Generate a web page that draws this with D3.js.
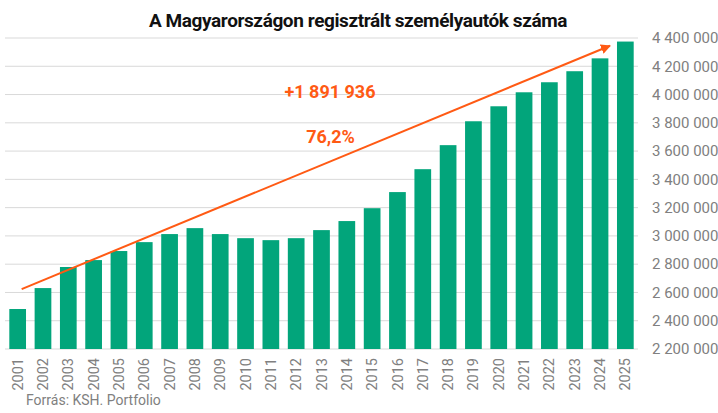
<!DOCTYPE html>
<html>
<head>
<meta charset="utf-8">
<script src="https://cdn.jsdelivr.net/npm/d3@7"></script>
<style>
  body { margin: 0; background: #fff; }
  text { font-family: Roboto, "Liberation Sans", sans-serif; }
</style>
</head>
<body>
<div id="chart"></div>
<script>
// years and registered passenger cars (KSH)
var years = ["2001","2002","2003","2004","2005","2006","2007","2008","2009","2010","2011","2012","2013",
             "2014","2015","2016","2017","2018","2019","2020","2021","2022","2023","2024","2025"]
var cars = [2482856, 2631000, 2780000, 2829000, 2893000, 2956000, 3013000, 3055000, 3013000, 2984000,
            2970000, 2984000, 3041000, 3105000, 3196000, 3310000, 3472000, 3642000, 3811000, 3917000,
            4016000, 4087000, 4165000, 4256000, 4374792]
var yTicks = [2200000, 2400000, 2600000, 2800000, 3000000, 3200000, 3400000, 3600000, 3800000, 4000000, 4200000, 4400000]
var annotations = ["+1 891 936", "76,2%"]
// trend arrow: [year, value] at start and end
var arrowFrom = ["2001", 2624000]
var arrowTo = ["2025", 4345000]

var W = 718, H = 413
var margin = {top: 38, right: 80, bottom: 64, left: 5}
var width = W - margin.left - margin.right
var height = H - margin.top - margin.bottom

var svg = d3.select("#chart").append("svg")
  .attr("width", W).attr("height", H)

var g = svg.append("g")
  .attr("transform", "translate(" + margin.left + "," + margin.top + ")")

var x = d3.scaleBand().domain(years).range([0, width]).paddingInner(0.34).paddingOuter(0.17)
var y = d3.scaleLinear().domain([2200000, 4400000]).range([height, 0])

var fmt = function(v) { return d3.format(",")(v).replace(/,/g, " ") }

// gridlines
g.selectAll(".grid")
  .data(yTicks)
  .enter()
  .append("line")
  .attr("x1", 0).attr("x2", width)
  .attr("y1", function(d) { return y(d) }).attr("y2", function(d) { return y(d) })
  .attr("stroke", "#d9d9d9").attr("stroke-width", 1)

// right axis labels
var yAxis = g.append("g")
  .attr("transform", "translate(" + width + ",0)")
  .call(d3.axisRight(y).tickValues(yTicks).tickFormat(fmt).tickSize(0).tickPadding(14))
yAxis.select(".domain").remove()
yAxis.selectAll("text").attr("fill", "#808080").attr("font-size", "15px")
  .attr("font-family", "Roboto, sans-serif")

// bars
g.selectAll("rect")
  .data(cars)
  .enter()
  .append("rect")
  .attr("x", function(d, i) { return x(years[i]) })
  .attr("width", x.bandwidth())
  .attr("y", function(d) { return y(d) })
  .attr("height", function(d) { return height - y(d) })
  .attr("fill", "#02a57b")

// bottom axis labels, rotated
var xAxis = g.append("g")
  .attr("transform", "translate(0," + height + ")")
  .call(d3.axisBottom(x).tickSize(0).tickPadding(0))
xAxis.select(".domain").remove()
xAxis.selectAll("text")
  .attr("transform", "rotate(-90)")
  .attr("text-anchor", "end")
  .attr("x", -9).attr("y", 0).attr("dy", "0.35em")
  .attr("fill", "#808080").attr("font-size", "14.5px")
  .attr("font-family", "Roboto, sans-serif")

// arrow
svg.append("defs").append("marker")
  .attr("id", "head")
  .attr("viewBox", "0 0 10 10")
  .attr("refX", 9).attr("refY", 5)
  .attr("markerWidth", 5).attr("markerHeight", 5)
  .attr("markerUnits", "strokeWidth")
  .attr("orient", "auto")
  .append("path").attr("d", "M0,0L10,5L0,10Z").attr("fill", "#ff5a14")

g.append("line")
  .attr("x1", x(arrowFrom[0]) + x.bandwidth() / 2 + 4)
  .attr("y1", y(arrowFrom[1]))
  .attr("x2", x(arrowTo[0]) - 7)
  .attr("y2", y(arrowTo[1]))
  .attr("stroke", "#ff5a14").attr("stroke-width", 2)
  .attr("marker-end", "url(#head)")

// annotation texts
svg.append("text")
  .attr("x", 330).attr("y", 98)
  .attr("text-anchor", "middle")
  .attr("font-size", "18px").attr("font-weight", "bold")
  .attr("fill", "#ff5a14")
  .text(annotations[0])

svg.append("text")
  .attr("x", 330.5).attr("y", 143)
  .attr("text-anchor", "middle")
  .attr("font-size", "18px").attr("font-weight", "bold")
  .attr("fill", "#ff5a14")
  .text(annotations[1])

// title
svg.append("text")
  .attr("x", 358).attr("y", 27)
  .attr("text-anchor", "middle")
  .attr("font-size", "19px").attr("font-weight", "bold")
  .attr("letter-spacing", "-0.4px")
  .attr("fill", "#111")
  .text("A Magyarországon regisztrált személyautók száma")

// source
svg.append("text")
  .attr("x", 26).attr("y", 405)
  .attr("font-size", "14px")
  .attr("fill", "#808080")
  .text("Forrás: KSH. Portfolio")
</script>
</body>
</html>
